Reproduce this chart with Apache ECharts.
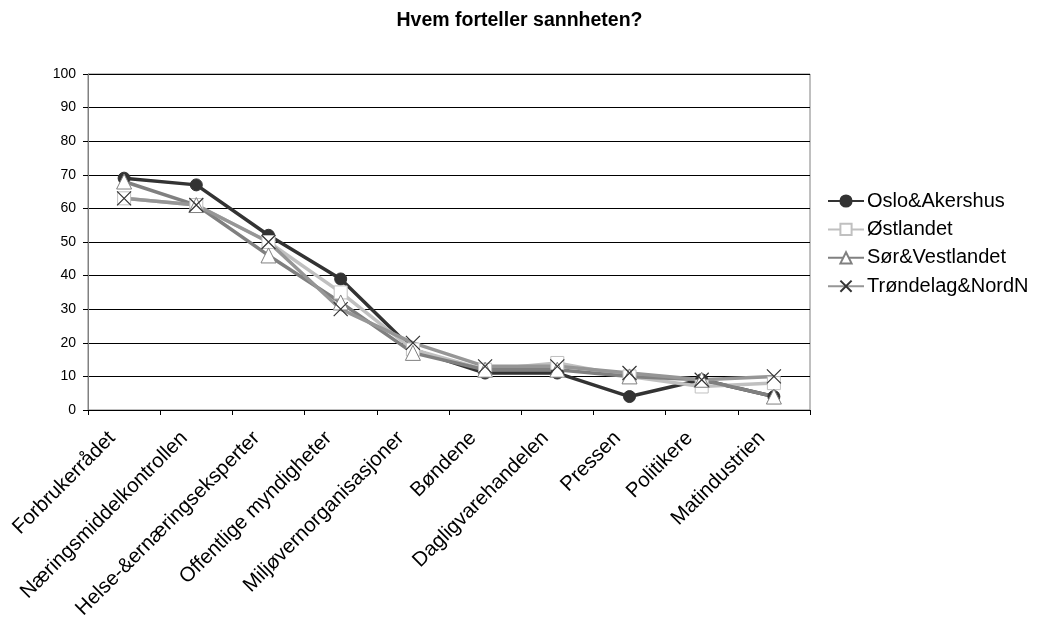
<!DOCTYPE html>
<html>
<head>
<meta charset="utf-8">
<script src="https://cdn.jsdelivr.net/npm/echarts@6/dist/echarts.min.js"></script>
<style>
  html, body { margin: 0; padding: 0; background: #fff; }
  #chart { width: 1039px; height: 622px; }
</style>
</head>
<body>
<div id="chart"></div>
<script>
const categories = ['Forbrukerrådet', 'Næringsmiddelkontrollen', 'Helse-&ernæringseksperter', 'Offentlige myndigheter',
  'Miljøvernorganisasjoner', 'Bøndene', 'Dagligvarehandelen', 'Pressen', 'Politikere', 'Matindustrien']
const osloAkershus = [69, 67, 52, 39, 18, 11, 11, 4, 9, 4]
const ostlandet = [63, 61, 50, 35, 18, 12, 14, 10, 7, 8]
const sorVestlandet = [68, 61, 46, 32, 17, 12, 12, 10, 9, 4]
const trondelagNordN = [63, 61, 50, 30, 20, 13, 13, 11, 9, 10]

const font = 'Liberation Sans, Arial, sans-serif'
const chart = echarts.init(document.getElementById('chart'))

function line (name, data, color, symbol, size, item) {
  return {
    name: name,
    type: 'line',
    data: data,
    symbol: symbol,
    symbolSize: size,
    showAllSymbol: true,
    lineStyle: { color: color, width: 3.5 },
    itemStyle: item,
    emphasis: { disabled: true },
    animation: false
  }
}

const option = {
  backgroundColor: '#fff',
  title: {
    text: 'Hvem forteller sannheten?',
    left: 'center',
    top: 6,
    textStyle: { fontFamily: font, fontSize: 19.5, fontWeight: 'bold', color: '#000' }
  },
  legend: {
    orient: 'vertical',
    left: 827,
    top: 191,
    padding: 0,
    itemWidth: 36,
    itemHeight: 14,
    itemGap: 8.4,
    textStyle: { fontFamily: font, fontSize: 20, lineHeight: 20, color: '#000', padding: [0, 0, 0, -2] },
    data: ['Oslo&Akershus', 'Østlandet', 'Sør&Vestlandet', 'Trøndelag&NordN']
  },
  grid: {
    left: 88,
    right: 229,
    top: 74,
    bottom: 212,
    containLabel: false,
    outerBoundsMode: 'none',
    show: true,
    borderColor: '#808080',
    borderWidth: 1
  },
  xAxis: {
    type: 'category',
    data: categories,
    boundaryGap: true,
    axisLine: { lineStyle: { color: '#000', width: 1 } },
    axisTick: { show: true, alignWithLabel: false, length: 5, lineStyle: { color: '#000' } },
    axisLabel: {
      rotate: 45,
      interval: 0,
      margin: 13,
      padding: [0, 17, 0, 0],
      fontFamily: font,
      fontSize: 20.5,
      color: '#000'
    }
  },
  yAxis: {
    type: 'value',
    min: 0,
    max: 100,
    interval: 10,
    axisLine: { show: true, lineStyle: { color: '#808080', width: 1 } },
    axisTick: { show: true, length: 5, lineStyle: { color: '#000' } },
    axisLabel: { fontFamily: font, fontSize: 14, color: '#000', margin: 12 },
    splitLine: { lineStyle: { color: '#000', width: 1 } }
  },
  series: [
    line('Oslo&Akershus', osloAkershus, '#333333', 'circle', 12,
      { color: '#333333', borderColor: '#333333', borderWidth: 1 }),
    line('Østlandet', ostlandet, '#c0c0c0', 'rect', 13,
      { color: '#ffffff', borderColor: '#c0c0c0', borderWidth: 1 }),
    line('Sør&Vestlandet', sorVestlandet, '#808080', 'triangle', 15,
      { color: '#ffffff', borderColor: '#808080', borderWidth: 1 }),
    line('Trøndelag&NordN', trondelagNordN, '#969696', 'path://M0,0L10,10M10,0L0,10', 14,
      { color: 'rgba(0,0,0,0)', borderColor: '#333333', borderWidth: 1.2 })
  ]
}

chart.setOption(option)
</script>
</body>
</html>
